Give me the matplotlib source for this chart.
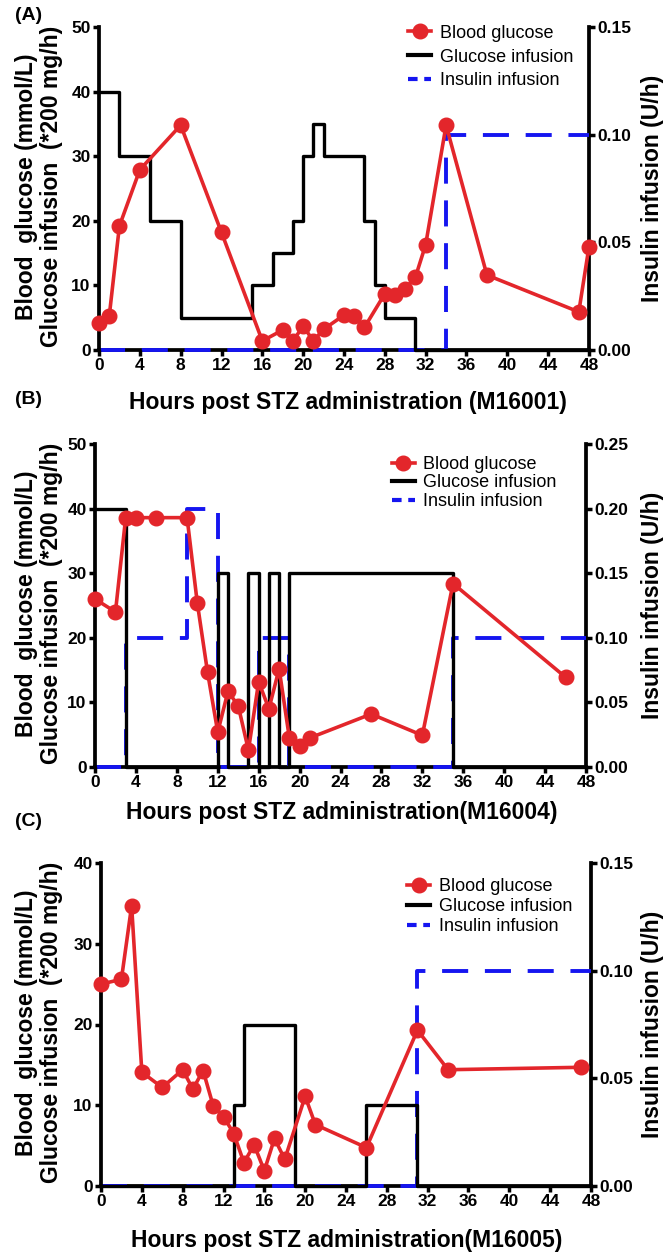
import matplotlib
matplotlib.use("Agg")
import matplotlib.pyplot as plt
from matplotlib.lines import Line2D

# --- data ---
# panel A (M16001)
a_bg_t = [0, 1, 2, 4, 8, 12, 16, 18, 19, 20, 21, 22, 24, 25, 26, 28, 29, 30, 31, 32, 34, 38, 47, 48]
a_bg = [4.2, 5.2, 19.2, 27.9, 34.8, 18.2, 1.4, 3.1, 1.4, 3.7, 1.4, 3.2, 5.4, 5.3, 3.5, 8.7, 8.5, 9.5, 11.3, 16.3, 34.8, 11.6, 5.9, 16.0]
a_gi_t = [0, 2, 5, 8, 15, 17, 19, 20, 21, 22, 26, 27, 28, 31, 48]
a_gi = [40, 30, 20, 5, 10, 15, 20, 30, 35, 30, 20, 10, 5, 0, 0]
a_ins_t = [0, 34, 48]
a_ins = [0, 0.10, 0.10]

# panel B (M16004)
b_bg_t = [0, 2, 3, 4, 6, 9, 10, 11, 12, 13, 14, 15, 16, 17, 18, 19, 20, 21, 27, 32, 35, 46]
b_bg = [26.0, 24.0, 38.6, 38.6, 38.6, 38.6, 25.4, 14.7, 5.4, 11.7, 9.5, 2.6, 13.2, 9.0, 15.2, 4.5, 3.2, 4.5, 8.2, 4.9, 28.4, 13.9]
b_gi_t = [0, 3, 12, 13, 15, 16, 17, 18, 19, 35, 48]
b_gi = [40, 0, 30, 0, 30, 0, 30, 0, 30, 0, 0]
b_ins_t = [0, 3, 9, 12, 16, 19, 35, 48]
b_ins = [0, 0.10, 0.20, 0, 0.10, 0, 0.10, 0.10]

# panel C (M16005)
c_bg_t = [0, 2, 3, 4, 6, 8, 9, 10, 11, 12, 13, 14, 15, 16, 17, 18, 20, 21, 26, 31, 34, 47]
c_bg = [25.0, 25.6, 34.7, 14.1, 12.2, 14.4, 12.0, 14.3, 9.9, 8.6, 6.5, 2.9, 5.1, 1.9, 5.9, 3.3, 11.1, 7.6, 4.75, 19.3, 14.4, 14.7]
c_gi_t = [0, 13, 14, 19, 26, 31, 48]
c_gi = [0, 10, 20, 0, 10, 0, 0]
c_ins_t = [0, 31, 48]
c_ins = [0, 0.10, 0.10]

x_ticks = list(range(0, 49, 4))
left_ticks_ab = [0, 10, 20, 30, 40, 50]
left_ticks_c = [0, 10, 20, 30, 40]
right_ticks_ac = [0.00, 0.05, 0.10, 0.15]
right_ticks_b = [0.00, 0.05, 0.10, 0.15, 0.20, 0.25]
legend_labels = ["Blood glucose", "Glucose infusion", "Insulin infusion"]

# pixel layout: axes box (left, top, right, bottom), tag y, xlabel (x, y), legend anchor
panels = [
    dict(tag="(A)", bg_t=a_bg_t, bg=a_bg, gi_t=a_gi_t, gi=a_gi, ins_t=a_ins_t, ins=a_ins,
         lt=left_ticks_ab, rt=right_ticks_ac, xlabel="Hours post STZ administration (M16001)",
         rect=[99, 27, 589, 350], tagy=16, xl=(348, 403), leg=(0.612, 1.035), ls=0.38),
    dict(tag="(B)", bg_t=b_bg_t, bg=b_bg, gi_t=b_gi_t, gi=b_gi, ins_t=b_ins_t, ins=b_ins,
         lt=left_ticks_ab, rt=right_ticks_b, xlabel="Hours post STZ administration(M16004)",
         rect=[95, 444, 586, 767], tagy=400, xl=(342, 813), leg=(0.586, 0.991), ls=0.08),
    dict(tag="(C)", bg_t=c_bg_t, bg=c_bg, gi_t=c_gi_t, gi=c_gi, ins_t=c_ins_t, ins=c_ins,
         lt=left_ticks_c, rt=right_ticks_ac, xlabel="Hours post STZ administration(M16005)",
         rect=[101, 863, 591, 1186], tagy=822, xl=(347, 1241), leg=(0.606, 0.982), ls=0.17),
]

plt.rcParams['font.family'] = ['Liberation Sans', 'DejaVu Sans']

W, H = 670, 1253
fig = plt.figure(figsize=(W / 100, H / 100), dpi=100)

RED = '#E3262B'
BLUE = '#1515F0'

for p in panels:
    x0, y0, x1, y1 = p["rect"]
    ax = fig.add_axes([x0 / W, 1 - y1 / H, (x1 - x0) / W, (y1 - y0) / H])
    ax2 = ax.twinx()
    # insulin sits under the glucose traces
    ax2.set_zorder(ax.get_zorder() - 1)
    ax.patch.set_visible(False)

    ax2.plot(p["ins_t"], p["ins"], drawstyle='steps-post', color=BLUE, lw=2.8,
             linestyle=(0, (6.7, 4.3)), clip_on=False, zorder=3)
    ax.plot(p["gi_t"], p["gi"], drawstyle='steps-post', color='black', lw=2.4, zorder=2,
            clip_on=False)
    ax.plot(p["bg_t"], p["bg"], color=RED, lw=2.6, marker='o', ms=10.5, zorder=3, clip_on=False)

    ax.set_xlim(0, 48)
    ax.set_ylim(0, p["lt"][-1])
    ax2.set_ylim(0, p["rt"][-1])
    ax.set_xticks(x_ticks)
    ax.set_yticks(p["lt"])
    ax2.set_yticks(p["rt"])
    ax2.set_yticklabels([f"{v:.2f}" for v in p["rt"]])

    ax.spines['top'].set_visible(False)
    ax.spines['right'].set_visible(False)
    ax.spines['bottom'].set_visible(False)
    ax2.spines['top'].set_visible(False)
    ax2.spines['left'].set_visible(False)
    for a in (ax, ax2):
        for s in a.spines.values():
            s.set_linewidth(2.7)
        a.tick_params(width=2.5, length=4.5, labelsize=12.5, pad=1.5)
        for lab in a.get_xticklabels() + a.get_yticklabels():
            lab.set_fontweight('bold')

    handles = [
        Line2D([], [], color=RED, lw=2.6, marker='o', ms=10.5),
        Line2D([], [], color='black', lw=3),
        Line2D([], [], color=BLUE, lw=3, linestyle=(0, (2.3, 1.6))),
    ]
    ax.legend(handles, legend_labels, loc='upper left', bbox_to_anchor=p["leg"],
              frameon=False, borderpad=0, handlelength=1.3, handletextpad=0.45,
              labelspacing=p["ls"], prop={'size': 13})

    cy = (y0 + y1) / 2
    fig.text(15 / W, 1 - p["tagy"] / H, p["tag"], fontsize=14, fontweight='bold',
             ha='left', va='center')
    fig.text(p["xl"][0] / W, 1 - p["xl"][1] / H, p["xlabel"], fontsize=16.5,
             fontweight='bold', ha='center', va='center')
    fig.text(39 / W, 1 - (cy - 2) / H, "Blood  glucose (mmol/L)\nGlucose infusion  (*200 mg/h)",
             rotation=90, fontsize=16.5, fontweight='bold', ha='center', va='center',
             linespacing=1.15)
    fig.text(653 / W, 1 - cy / H, "Insulin infusion (U/h)", rotation=90, fontsize=16.5,
             fontweight='bold', ha='center', va='center')

fig.savefig("out.png", dpi=100)
